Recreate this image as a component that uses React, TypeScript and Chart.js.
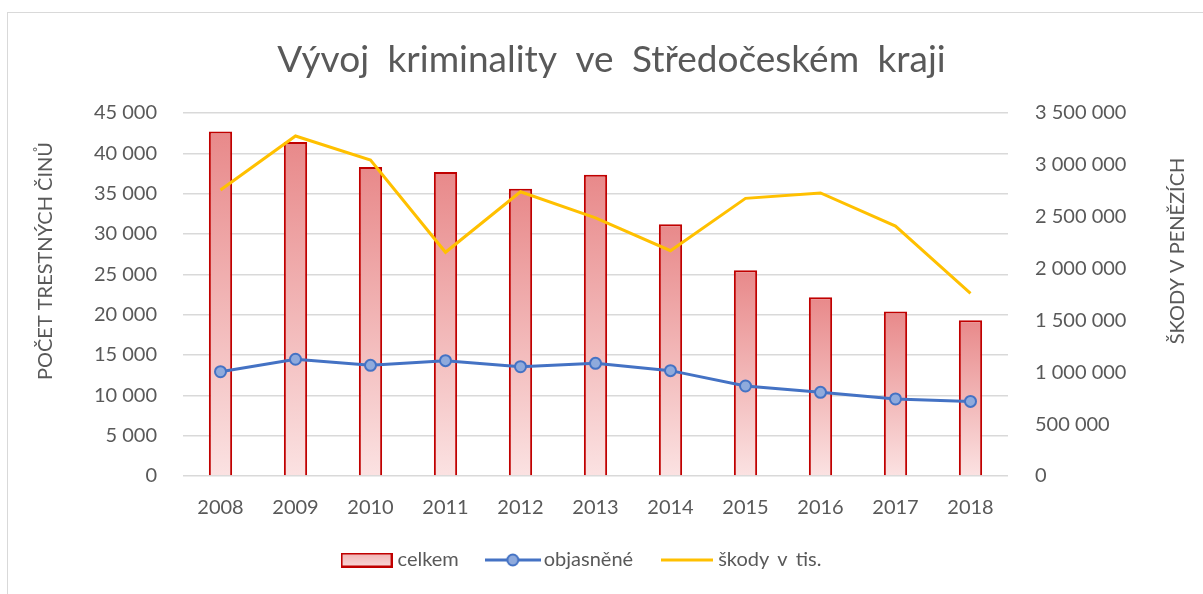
import React, { useEffect, useRef } from 'react';
import { Chart, registerables } from 'chart.js';

Chart.register(...registerables);

const TITLE = 'Vývoj kriminality ve Středočeském kraji';
const LEFT_AXIS_TITLE = 'POČET TRESTNÝCH ČINŮ';
const RIGHT_AXIS_TITLE = 'ŠKODY V PENĚZÍCH';

const years = ['2008', '2009', '2010', '2011', '2012', '2013', '2014', '2015', '2016', '2017', '2018'];
const celkem = [42700, 41400, 38300, 37700, 35600, 37350, 31200, 25500, 22150, 20400, 19300];
const objasnene = [12930, 14470, 13720, 14300, 13550, 13970, 13060, 11160, 10370, 9550, 9250];
const skody = [2758000, 3278000, 3047000, 2157000, 2741000, 2488000, 2172000, 2677000, 2729000, 2410000, 1761000];

const leftTicks = [0, 5000, 10000, 15000, 20000, 25000, 30000, 35000, 40000, 45000];
const rightTicks = [0, 500000, 1000000, 1500000, 2000000, 2500000, 3000000, 3500000];
const seriesNames = ['celkem', 'objasněné', 'škody v tis.'];

const FONT = 'Lato, "Open Sans", sans-serif';
const TEXT = '#595959';
const GRID = '#D9D9D9';
const BAR_BORDER = '#C00000';
const BAR_TOP = '#E8898A';
const BAR_BOTTOM = '#FBE2E2';
const BLUE = '#4472C4';
const BLUE_FILL = '#8FAADC';
const GOLD = '#FFC000';
const LEGEND_SHIFT = -15;

const fmt = (v: number) => String(v).replace(/\B(?=(\d{3})+(?!\d))/g, ' ');

function makeLegendImages() {
  const box = document.createElement('canvas');
  box.width = 52; box.height = 15;
  let c = box.getContext('2d')!;
  const g = c.createLinearGradient(0, 0, 0, 15);
  g.addColorStop(0, '#F0B2B2');
  g.addColorStop(1, '#F9DADA');
  c.fillStyle = g;
  c.fillRect(1, 1, 50, 13);
  c.strokeStyle = BAR_BORDER;
  c.lineWidth = 2;
  c.strokeRect(1, 1, 50, 13);

  const line = document.createElement('canvas');
  line.width = 56; line.height = 14;
  c = line.getContext('2d')!;
  c.strokeStyle = BLUE; c.lineWidth = 3;
  c.beginPath(); c.moveTo(0, 7); c.lineTo(56, 7); c.stroke();
  c.beginPath(); c.arc(28, 7, 5.5, 0, Math.PI * 2);
  c.fillStyle = BLUE_FILL; c.fill();
  c.lineWidth = 2; c.stroke();

  const gold = document.createElement('canvas');
  gold.width = 52; gold.height = 6;
  c = gold.getContext('2d')!;
  c.strokeStyle = GOLD; c.lineWidth = 3;
  c.beginPath(); c.moveTo(0, 3); c.lineTo(52, 3); c.stroke();
  return [box, line, gold];
}

const decorPlugin = {
  id: 'decor',
  beforeDraw(chart: any) {
    (chart.ctx as any).wordSpacing = '9px';
  },
  afterDatasetsDraw(chart: any) {
    (chart.ctx as any).wordSpacing = '0px';
  },
  afterDraw(chart: any) {
    const ctx = chart.ctx as CanvasRenderingContext2D;
    ctx.save();
    (ctx as any).wordSpacing = '0px';
    ctx.fillStyle = TEXT;
    ctx.font = `20px ${FONT}`;
    ctx.textAlign = 'center';
    ctx.textBaseline = 'middle';
    ctx.save();
    ctx.translate(46, 261);
    ctx.rotate(-Math.PI / 2);
    ctx.fillText(LEFT_AXIS_TITLE, 0, 0);
    ctx.restore();
    ctx.save();
    ctx.translate(1178, 251);
    ctx.rotate(-Math.PI / 2);
    ctx.fillText(RIGHT_AXIS_TITLE, 0, 0);
    ctx.restore();
    ctx.restore();
  },
};

export default function App() {
  const ref = useRef<HTMLCanvasElement | null>(null);

  useEffect(() => {
    if (!ref.current) return;
    const imgs = makeLegendImages();
    const tickFont = { family: FONT, size: 20 };

    const chart = new Chart(ref.current, {
      type: 'bar',
      data: {
        labels: years,
        datasets: [
          {
            type: 'bar',
            label: seriesNames[0],
            data: celkem,
            yAxisID: 'y',
            order: 3,
            backgroundColor: (ctx: any) => {
              const ch = ctx.chart;
              if (!ch.chartArea || ctx.dataIndex === undefined) return BAR_TOP;
              const v = celkem[ctx.dataIndex];
              const yTop = ch.scales.y.getPixelForValue(v);
              const yBot = ch.scales.y.getPixelForValue(0);
              const g = ch.ctx.createLinearGradient(0, yTop, 0, yBot);
              g.addColorStop(0, BAR_TOP);
              g.addColorStop(1, BAR_BOTTOM);
              return g;
            },
            borderColor: BAR_BORDER,
            borderWidth: 2,
            barPercentage: 0.31,
            categoryPercentage: 1,
          } as any,
          {
            type: 'line',
            label: seriesNames[1],
            data: objasnene,
            yAxisID: 'y',
            order: 1,
            borderColor: BLUE,
            borderWidth: 3,
            pointRadius: 5.5,
            pointBackgroundColor: BLUE_FILL,
            pointBorderColor: BLUE,
            pointBorderWidth: 2,
            tension: 0,
          } as any,
          {
            type: 'line',
            label: seriesNames[2],
            data: skody,
            yAxisID: 'y2',
            order: 2,
            borderColor: GOLD,
            borderWidth: 3,
            pointRadius: 0,
            tension: 0,
          } as any,
        ],
      },
      options: {
        animation: false,
        responsive: false,
        maintainAspectRatio: false,
        devicePixelRatio: 1,
        layout: { padding: { left: 20, right: 0, top: 0, bottom: 14 } },
        plugins: {
          title: {
            display: true,
            text: TITLE,
            color: TEXT,
            font: { family: FONT, size: 37, weight: 'normal' as any },
            padding: { top: 37.8, bottom: 30.8 },
          },
          legend: {
            position: 'bottom',
            fullSize: false,
            labels: {
              usePointStyle: true,
              pointStyleWidth: 42,
              boxHeight: 15,
              padding: 33,
              color: TEXT,
              font: { family: FONT, size: 20 },
              generateLabels: () =>
                seriesNames.map((name, i) => ({
                  text: name,
                  pointStyle: imgs[i] as any,
                  fillStyle: 'rgba(0,0,0,0)',
                  strokeStyle: 'rgba(0,0,0,0)',
                  lineWidth: 0,
                  hidden: false,
                  datasetIndex: i,
                  fontColor: TEXT,
                })) as any,
            },
          },
          tooltip: { enabled: false },
        },
        scales: {
          x: {
            grid: { display: false },
            border: { display: false },
            ticks: { color: TEXT, font: tickFont, padding: 12, z: 1, maxRotation: 0 },
            afterFit: (s: any) => { s.height = 41; },
          },
          y: {
            position: 'left',
            min: leftTicks[0],
            max: leftTicks[leftTicks.length - 1],
            grid: { color: GRID, lineWidth: 1.5, drawTicks: false },
            border: { display: false },
            ticks: { color: TEXT, font: tickFont, padding: 26, z: 1, callback: (v: any) => fmt(Number(v)) },
            afterBuildTicks: (s: any) => { s.ticks = leftTicks.map((v) => ({ value: v })); },
            afterFit: (s: any) => { s.width = 163; },
          },
          y2: {
            position: 'right',
            min: rightTicks[0],
            max: rightTicks[rightTicks.length - 1],
            grid: { display: false, drawTicks: false },
            border: { display: false },
            ticks: { color: TEXT, font: tickFont, padding: 27, z: 1, callback: (v: any) => fmt(Number(v)) },
            afterBuildTicks: (s: any) => { s.ticks = rightTicks.map((v) => ({ value: v })); },
            afterFit: (s: any) => { s.width = 195; },
          },
        },
      } as any,
      plugins: [decorPlugin as any],
    });

    const lg = (chart as any).legend;
    if (lg) {
      const origDraw = lg.draw.bind(lg);
      lg.draw = (area: any) => {
        const c = chart.ctx as any;
        const prev = c.wordSpacing;
        c.save();
        c.wordSpacing = '3px';
        c.translate(LEGEND_SHIFT, 0);
        origDraw(area);
        c.restore();
        c.wordSpacing = prev;
      };
      chart.draw();
    }
    return () => chart.destroy();
  }, []);

  return (
    <div style={{ position: 'fixed', left: 0, top: 0, width: 1203, height: 594, background: '#fff', overflow: 'hidden' }}>
      <div
        style={{
          position: 'absolute', left: 7, top: 12, width: 1300, height: 700,
          borderTop: '1.5px solid #D9D9D9', borderLeft: '1.5px solid #D9D9D9', boxSizing: 'border-box',
        }}
      />
      <canvas ref={ref} width={1203} height={594} style={{ position: 'absolute', left: 0, top: 0, width: 1203, height: 594 }} />
    </div>
  );
}
